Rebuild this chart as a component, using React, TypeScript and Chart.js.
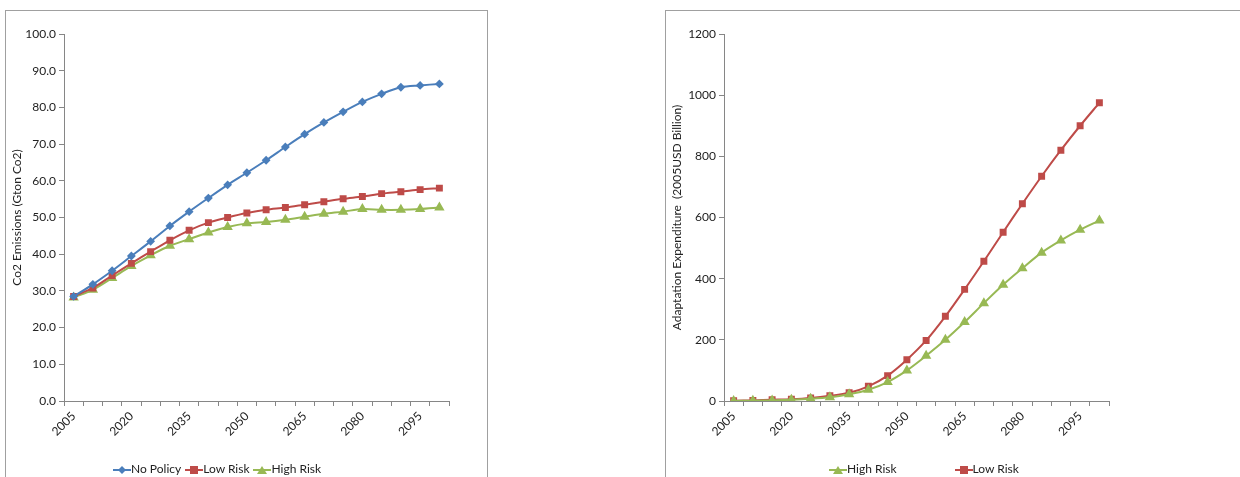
import { useEffect, useRef } from 'react';
import Chart from 'chart.js/auto';

const years = Array.from({ length: 20 }, (_, i) => String(2005 + i * 5));

const noPolicy = [28.5, 31.8, 35.5, 39.5, 43.5, 47.7, 51.6, 55.3, 58.9, 62.2, 65.6, 69.2, 72.7, 75.9, 78.8, 81.5, 83.7, 85.5, 86.0, 86.4];
const lowRiskCo2 = [28.5, 30.8, 34.2, 37.5, 40.7, 43.8, 46.5, 48.6, 50.0, 51.2, 52.1, 52.7, 53.5, 54.3, 55.1, 55.7, 56.5, 57.0, 57.6, 58.0];
const highRiskCo2 = [28.2, 30.3, 33.5, 36.8, 39.7, 42.3, 44.1, 45.9, 47.4, 48.4, 48.8, 49.4, 50.2, 51.0, 51.6, 52.3, 52.1, 52.1, 52.3, 52.7];

const lowRiskAdapt = [1, 2, 4, 6, 10, 17, 27, 48, 83, 135, 198, 277, 365, 457, 552, 645, 735, 820, 900, 975];
const highRiskAdapt = [0, 1, 2, 4, 7, 12, 22, 37, 62, 100, 148, 200, 258, 320, 380, 434, 485, 525, 560, 590];

const BLUE = '#4a7ebb';
const RED = '#be4b48';
const GREEN = '#98b954';
const FONT = 'Lato';

function series(label: string, data: number[], color: string, style: string, radius: number) {
  return {
    label, data, borderColor: color, backgroundColor: color, borderWidth: 2,
    pointStyle: style, pointRadius: radius, pointHoverRadius: radius, tension: 0.3,
  };
}

function makeConfig(datasets: any[], yTitle: string, yMax: number, yStep: number, decimals: number): any {
  const axisColor = '#868686';
  return {
    type: 'line',
    data: { labels: years, datasets },
    options: {
      animation: false,
      responsive: false,
      layout: { padding: { top: 23, right: 38, left: 4, bottom: 0 } },
      plugins: { tooltip: { enabled: false }, legend: { display: false } },
      scales: {
        x: {
          offset: true,
          afterFit: (s: any) => { s.height = 76; },
          grid: { display: true, drawOnChartArea: false, offset: true, color: axisColor, tickLength: 5 },
          border: { color: axisColor },
          ticks: {
            autoSkip: false, maxRotation: 45, minRotation: 45, color: '#222',
            font: { family: FONT, size: 12 },
            callback: (_v: any, i: number) => (i % 3 === 0 ? years[i] : ''),
          },
        },
        y: {
          min: 0, max: yMax,
          afterFit: (s: any) => { s.width = 54; },
          grid: { display: true, drawOnChartArea: false, color: axisColor, tickLength: 5 },
          border: { color: axisColor },
          title: { display: true, text: yTitle, color: '#222', font: { family: FONT, size: 12 }, padding: 0 },
          ticks: { stepSize: yStep, color: '#222', font: { family: FONT, size: 12 }, callback: (v: any) => Number(v).toFixed(decimals) },
        },
      },
    },
  };
}

function Marker({ color, style }: { color: string; style: string }) {
  return (
    <svg width="18" height="10" style={{ verticalAlign: 'middle' }}>
      <line x1="0" y1="5" x2="18" y2="5" stroke={color} strokeWidth="2" />
      {style === 'rect' && <rect x="5" y="1" width="8" height="8" fill={color} />}
      {style === 'rectRot' && <polygon points="9,1 13,5 9,9 5,5" fill={color} />}
      {style === 'triangle' && <polygon points="9,1 14,9 4,9" fill={color} />}
    </svg>
  );
}

function ChartBox({ config, left, width, legend, legendLeft, gap }: { config: any; left: number; width: number; legend: [string, string, string][]; legendLeft: number; gap: number }) {
  const ref = useRef<HTMLCanvasElement | null>(null);
  useEffect(() => {
    if (!ref.current) return;
    const chart = new Chart(ref.current, config);
    return () => chart.destroy();
  }, []);
  return (
    <div style={{ position: 'absolute', left, top: 10, width, height: 480, border: '1px solid #a0a0a0', background: '#fff' }}>
      <canvas ref={ref} width={481} height={466} style={{ display: 'block' }} />
      <div style={{ position: 'absolute', left: legendLeft, top: 450, display: 'flex', gap, font: `12px ${FONT}`, color: '#222', whiteSpace: 'nowrap' }}>
        {legend.map(([label, color, style]) => (
          <span key={label}><Marker color={color} style={style} />{label}</span>
        ))}
      </div>
    </div>
  );
}

export default function App() {
  const left = makeConfig([
    series('No Policy', noPolicy, BLUE, 'rectRot', 3),
    series('Low Risk', lowRiskCo2, RED, 'rect', 3.5),
    series('High Risk', highRiskCo2, GREEN, 'triangle', 4),
  ], 'Co2 Emissions (Gton Co2)', 100, 10, 1);
  const right = makeConfig([
    series('High Risk', highRiskAdapt, GREEN, 'triangle', 4),
    series('Low Risk', lowRiskAdapt, RED, 'rect', 3.5),
  ], 'Adaptation Expenditure  (2005USD Billion)', 1200, 200, 0);
  return (
    <div style={{ position: 'fixed', inset: 0, background: '#fff', overflow: 'hidden' }}>
      <ChartBox config={left} left={5} width={481} legendLeft={107} gap={4}
        legend={[['No Policy', BLUE, 'rectRot'], ['Low Risk', RED, 'rect'], ['High Risk', GREEN, 'triangle']]} />
      <ChartBox config={right} left={665} width={600} legendLeft={163} gap={58}
        legend={[['High Risk', GREEN, 'triangle'], ['Low Risk', RED, 'rect']]} />
    </div>
  );
}
